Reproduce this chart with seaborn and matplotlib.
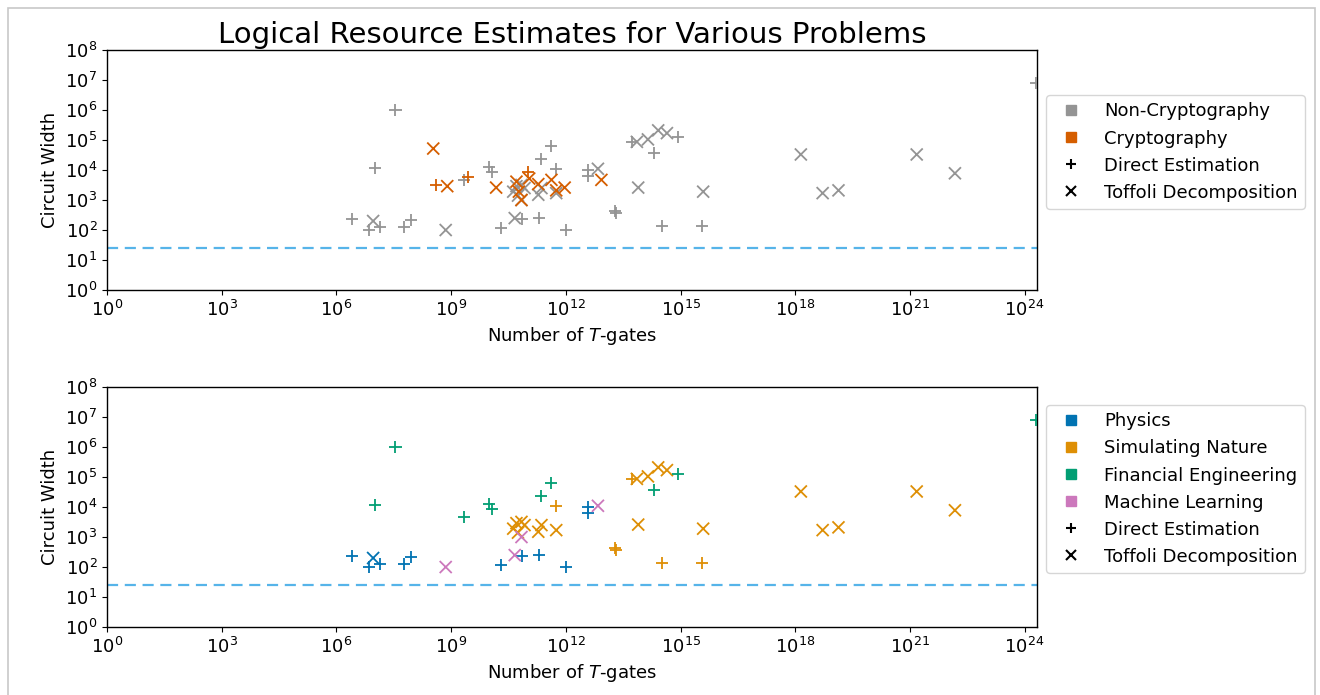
import matplotlib
matplotlib.use("Agg")
import pandas as pd
import seaborn as sns
import matplotlib.pyplot as plt
from matplotlib.lines import Line2D
from matplotlib.patches import Rectangle
from matplotlib.ticker import NullLocator

# method codes: D = Direct Estimation, T = Toffoli Decomposition
METHOD_NAMES = {"D": "Direct Estimation", "T": "Toffoli Decomposition"}

# Physics
phys_t = [2.5e6, 9.1e6, 7.1e6, 1.35e7, 5.8e7, 9.1e7, 2.0e10, 7.2e10, 2.0e11, 1.0e12, 3.8e12, 3.8e12]
phys_w = [240, 200, 100, 130, 130, 210, 120, 240, 250, 100, 1.0e4, 6.2e3]
phys_m = ["D", "T", "D", "D", "D", "D", "D", "D", "D", "D", "D", "D"]

# Simulating Nature
sim_t = [4.2e10, 5.1e10, 6.9e10, 8.3e10, 5.6e10, 1.9e11, 2.3e11, 5.6e11, 7.8e13, 7.2e13,
         1.4e14, 2.6e14, 4.4e14, 3.9e15, 1.4e18, 5.2e18, 1.35e19, 1.5e21, 1.5e22,
         5.6e11, 1.9e13, 2.1e13, 5.5e13, 3.2e14, 3.7e15]
sim_w = [1.9e3, 2.9e3, 3.2e3, 2.5e3, 1.4e3, 1.5e3, 2.5e3, 1.7e3, 2.6e3, 8.7e4,
         1.05e5, 2.1e5, 1.7e5, 1.9e3, 3.3e4, 1.7e3, 2.1e3, 3.3e4, 7.8e3,
         1.07e4, 420, 380, 8.3e4, 135, 135]
sim_m = ["T"] * 19 + ["D"] * 6

# Financial Engineering
fin_t = [1.0e7, 3.5e7, 2.2e9, 9.8e9, 1.2e10, 2.3e11, 4.2e11, 2.0e14, 8.5e14, 2.0e24]
fin_w = [1.2e4, 1.0e6, 4.8e3, 1.3e4, 8.3e3, 2.3e4, 6.5e4, 3.8e4, 1.3e5, 8.1e6]
fin_m = ["D"] * 10

# Machine Learning
ml_t = [7.2e8, 4.6e10, 6.9e10, 6.9e12]
ml_w = [100, 250, 1.0e3, 1.1e4]
ml_m = ["T"] * 4

# Cryptography (top panel only)
crypto_t = [3.4e8, 7.9e8, 1.5e10, 5.1e10, 5.9e10, 6.9e10, 1.1e11, 1.9e11, 4.2e11, 5.6e11,
            9.3e11, 8.5e12, 4.0e8, 2.8e9, 1.0e11]
crypto_w = [5.2e4, 2.9e3, 2.6e3, 4.1e3, 1.9e3, 1.0e3, 5.2e3, 3.4e3, 4.7e3, 2.1e3,
            2.6e3, 4.7e3, 3.2e3, 6.0e3, 8.7e3]
crypto_m = ["T"] * 12 + ["D"] * 3

threshold = 25

pal = sns.color_palette("colorblind")
bottom_groups = ["Physics", "Simulating Nature", "Financial Engineering", "Machine Learning"]
bottom_colors = [pal[0], pal[1], pal[2], pal[4]]
top_groups = ["Non-Cryptography", "Cryptography"]
top_colors = [pal[7], pal[3]]
METHODS = ["Direct Estimation", "Toffoli Decomposition"]
MARKERS = {"Direct Estimation": "+", "Toffoli Decomposition": "x"}


def make_df(t, w, m, group):
    return pd.DataFrame({"tgates": t, "width": w,
                         "method": [METHOD_NAMES[k] for k in m], "group": group})


df_bottom = pd.concat([
    make_df(phys_t, phys_w, phys_m, "Physics"),
    make_df(sim_t, sim_w, sim_m, "Simulating Nature"),
    make_df(fin_t, fin_w, fin_m, "Financial Engineering"),
    make_df(ml_t, ml_w, ml_m, "Machine Learning"),
], ignore_index=True)

df_top = pd.concat([
    df_bottom.assign(group="Non-Cryptography"),
    make_df(crypto_t, crypto_w, crypto_m, "Cryptography"),
], ignore_index=True)

plt.rcParams["font.size"] = 13

fig = plt.figure(figsize=(13.2, 6.95), dpi=100)
ax_top = fig.add_axes([0.0811, 0.5827, 0.7045, 0.3453])
ax_bot = fig.add_axes([0.0811, 0.0978, 0.7045, 0.3453])


def draw(ax, df, groups, colors):
    ax.set_xscale("log")
    ax.set_yscale("log")
    sns.scatterplot(data=df, x="tgates", y="width", hue="group", style="method",
                    hue_order=groups, palette=colors, style_order=METHODS,
                    markers=MARKERS, s=75, linewidth=1.3, edgecolor=None,
                    legend=False, ax=ax, zorder=3)
    ax.axhline(threshold, color=pal[9], linestyle="--", linewidth=1.6, dashes=(5, 3))
    ax.set_xlim(1, 2.1e24)
    ax.set_ylim(1, 1e8)
    ax.set_xticks([10.0 ** k for k in range(0, 25, 3)])
    ax.set_yticks([10.0 ** k for k in range(0, 9)])
    ax.xaxis.set_minor_locator(NullLocator())
    ax.yaxis.set_minor_locator(NullLocator())
    ax.set_xlabel("Number of $T$-gates")
    ax.set_ylabel("Circuit Width")
    for sp in ax.spines.values():
        sp.set_linewidth(1.0)

    handles = [Line2D([], [], marker="s", color=c, linestyle="", markersize=7) for c in colors]
    handles += [Line2D([], [], marker=MARKERS[m], color="black", linestyle="",
                       markersize=7, markeredgewidth=1.5) for m in METHODS]
    ax.legend(handles, groups + METHODS, loc="center left",
              bbox_to_anchor=(1.0, 0.575), fontsize=13)


draw(ax_top, df_top, top_groups, top_colors)
draw(ax_bot, df_bottom, bottom_groups, bottom_colors)
ax_top.set_title("Logical Resource Estimates for Various Problems", fontsize=21, pad=5)

fig.patches.append(Rectangle((0.006, -0.01), 0.99, 0.998, transform=fig.transFigure,
                             fill=False, edgecolor="#c8c8c8", linewidth=1.2))

fig.savefig("out.png", dpi=100)
